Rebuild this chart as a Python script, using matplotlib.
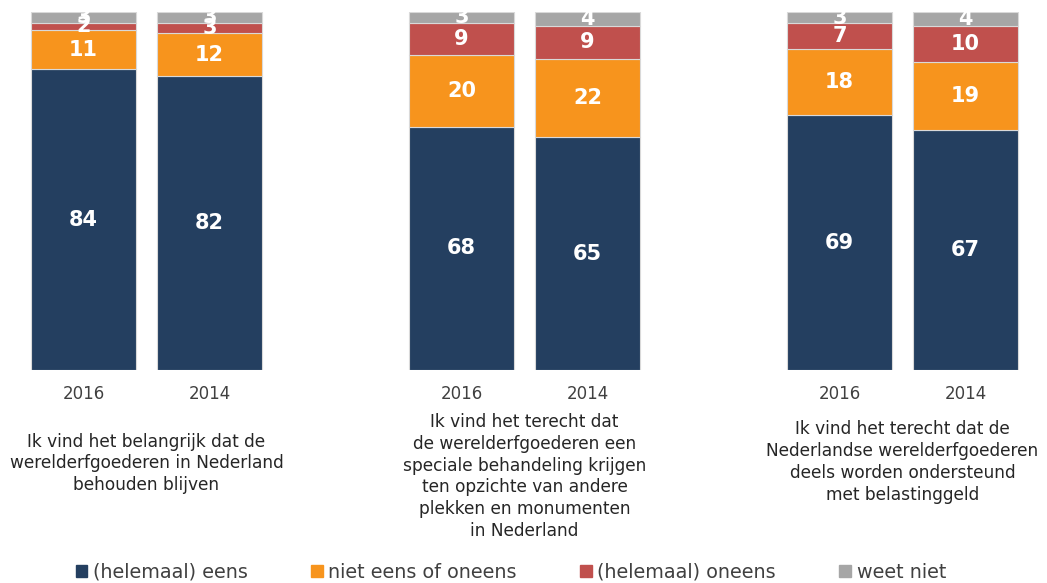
import matplotlib
matplotlib.use("Agg")
import matplotlib.pyplot as plt
import matplotlib.patches as mpatches
import numpy as np

# data
years = ["2016", "2014"]
statements = [
    "Ik vind het belangrijk dat de\nwerelderfgoederen in Nederland\nbehouden blijven",
    "Ik vind het terecht dat\nde werelderfgoederen een\nspeciale behandeling krijgen\nten opzichte van andere\nplekken en monumenten\nin Nederland",
    "Ik vind het terecht dat de\nNederlandse werelderfgoederen\ndeels worden ondersteund\nmet belastinggeld",
]
series = ["(helemaal) eens", "niet eens of oneens", "(helemaal) oneens", "weet niet"]
colors = ["#243F60", "#F7941D", "#C0504D", "#A6A6A6"]

# one row per bar: statement 1 (2016, 2014), statement 2 (...), statement 3 (...)
eens = [84, 82, 68, 65, 69, 67]
neutraal = [11, 12, 20, 22, 18, 19]
oneens = [2, 3, 9, 9, 7, 10]
weet_niet = [3, 3, 3, 4, 3, 4]

values = np.array([eens, neutraal, oneens, weet_niet], dtype=float)
shares = values / values.sum(axis=0) * 100  # bars are drawn as 100% stacks

n_groups = len(statements)
xpos = np.array([g * 3 + i for g in range(n_groups) for i in range(len(years))])

W, H = 1047, 583
fig = plt.figure(figsize=(W / 100, H / 100), dpi=100)
ax = fig.add_axes([0, 213 / H, 1, 358 / H])

bottom = np.zeros(len(xpos))
for k, name in enumerate(series):
    ax.bar(xpos, shares[k], 0.833, bottom=bottom, color=colors[k],
           edgecolor="#D9D9D9", linewidth=0.8, label=name)
    for x, b, s, v in zip(xpos, bottom, shares[k], values[k]):
        ax.text(x, b + s / 2, f"{v:.0f}", ha="center", va="center",
                color="white", fontweight="bold", fontsize=15)
    bottom += shares[k]

ax.set_xlim(-83.5 / 126, (W - 83.5) / 126)
ax.set_ylim(0, 100)
ax.set_yticks([])
ax.set_xticks(xpos)
ax.set_xticklabels(years * n_groups, fontsize=12, color="#404040")
ax.tick_params(axis="x", length=0, pad=11)
for sp in ax.spines.values():
    sp.set_visible(False)

# statement texts under each group
text_y = [463.5, 476.5, 462]
for g, txt in enumerate(statements):
    xc = ax.transData.transform((g * 3 + 0.5, 0))[0] / W
    fig.text(xc, 1 - text_y[g] / H, txt, ha="center", va="center",
             fontsize=12.25, color="#262626", linespacing=1.27)

handles = [mpatches.Patch(color=c) for c in colors]
fig.legend(handles, series, loc="center", bbox_to_anchor=(0.488, 1 - 572 / H),
           ncol=4, frameon=False, fontsize=13.8, handlelength=0.6,
           handleheight=0.6, handletextpad=0.3, columnspacing=3.3,
           labelcolor="#404040")

fig.savefig("out.png", dpi=100)
